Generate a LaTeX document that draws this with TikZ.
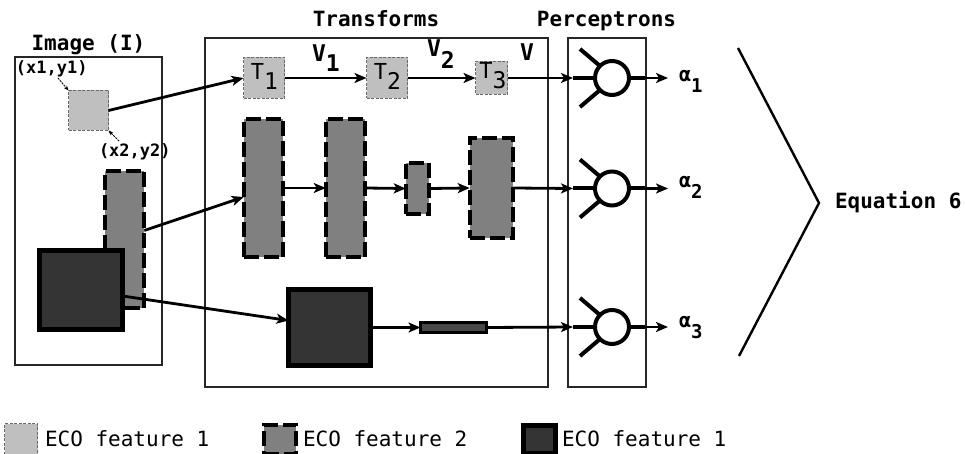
\documentclass[tikz,border=0pt]{standalone}
\usepackage{fontspec}
\setmainfont{DejaVu Sans Mono}
\usetikzlibrary{arrows.meta}
\definecolor{lightg}{RGB}{191,191,191}
\definecolor{dashg}{RGB}{105,105,105}
\definecolor{midg}{RGB}{128,128,128}
\definecolor{darkg}{RGB}{52,52,52}
\newcommand{\fsz}[1]{\fontsize{#1}{#1}\selectfont}
\begin{document}
\begin{tikzpicture}[x=1pt,y=-1pt,
  every node/.style={inner sep=0pt, outer sep=0pt},
  lightbox/.style={rectangle, fill=lightg, draw=dashg, line width=1pt, dash pattern=on 3pt off 1.5pt},
  midbox/.style={rectangle, fill=midg, draw=black, line width=3.8pt, dash pattern=on 15pt off 5pt},
  darkbox/.style={rectangle, fill=darkg, draw=black, line width=5pt},
  barbox/.style={rectangle, fill=darkg!90!white, draw=black, line width=3pt},
  frame/.style={rectangle, draw=black!85, line width=1.8pt},
  arr/.style={line width=2.8pt, -{Stealth[length=12pt,width=10pt,inset=3pt]}},
  tinyarr/.style={line width=0.9pt, dash pattern=on 2pt off 1pt, -{Stealth[length=5pt,width=4pt]}},
  perc/.style={circle, draw=black, fill=white, line width=4pt, minimum size=34pt},
  spoke/.style={line width=4pt},
  head/.style={font=\fsz{21}\bfseries, anchor=base},
  vlab/.style={font=\fsz{23}\bfseries, anchor=base west},
  tlab/.style={font=\fsz{22}, anchor=base},
  alab/.style={font=\fsz{20}\bfseries, anchor=base west},
  leg/.style={font=\fsz{21}, anchor=base west},
  xylab/.style={font=\fsz{17}\bfseries, anchor=base west}
]
\useasboundingbox (0,0) rectangle (965,454);

% frames
\node[frame, minimum width=147pt, minimum height=308pt] (imgframe) at (88.5,211) {};
\node[frame, minimum width=343pt, minimum height=349pt] (trframe) at (376.5,212.5) {};
\node[frame, minimum width=78pt, minimum height=349pt] (peframe) at (607,212.5) {};

% headers
\node[head] (himg) at (88.5,51) {Image (I)};
\node[head] (htr) at (376,27) {Transforms};
\node[head] (hpe) at (606.5,27) {Perceptrons};

% image content
\node[lightbox, minimum width=40pt, minimum height=40pt] (sq) at (88.5,110.5) {};
\node[midbox, minimum width=39.5pt, minimum height=137pt] (mr) at (124.5,239.5) {};
\node[darkbox, minimum width=83pt, minimum height=79pt] (dk) at (81,290) {};
\node[xylab] (lx1) at (16,74) {(x1,y1)};
\node[xylab] (lx2) at (99,157) {(x2,y2)};
\coordinate (c1) at (58,78);
\coordinate (c2) at (119,141);
\draw[tinyarr] (c1) -- (sq.north west);
\draw[tinyarr] (c2) -- (sq.south east);

% transforms row 1
\node[lightbox, minimum width=41pt, minimum height=41pt] (T1) at (264,78) {};
\node[lightbox, minimum width=41pt, minimum height=41pt] (T2) at (387,78) {};
\node[lightbox, minimum width=32pt, minimum height=33pt] (T3) at (491.5,78) {};
\node[tlab] (t1l) at (264.5,80) {T\raisebox{-10pt}{\fsz{23}1}};
\node[tlab] (t2l) at (387.5,80) {T\raisebox{-10pt}{\fsz{23}2}};
\node[tlab] (t3l) at (493,79) {T\raisebox{-10pt}{\fsz{23}3}};
\node[vlab] (v1) at (312,62) {V\raisebox{-10pt}{1}};
\node[vlab] (v2) at (427,57) {V\raisebox{-12pt}{2}};
\node[vlab] (v) at (520,61) {V};

% transforms row 2
\node[midbox, minimum width=39.5pt, minimum height=138pt] (R1) at (263.5,188) {};
\node[midbox, minimum width=39.5pt, minimum height=138pt] (R2) at (345.5,188) {};
\node[midbox, minimum width=23.5pt, minimum height=51.5pt] (R3) at (417.5,188.5) {};
\node[midbox, minimum width=43.5pt, minimum height=100.5pt] (R4) at (491.5,188) {};

% transforms row 3
\node[darkbox, minimum width=82pt, minimum height=76pt] (D2) at (329.5,327.5) {};
\node[barbox, minimum width=66pt, minimum height=10pt] (B) at (453.5,327.5) {};

% perceptrons
\node[perc] (p1) at (612,78) {};
\node[perc] (p2) at (612,188.5) {};
\node[perc] (p3) at (612,327) {};
\coordinate (p1in) at (573,78);
\coordinate (p2in) at (573,188.5);
\coordinate (p3in) at (573,327);
\coordinate (p1s) at (645,78);
\coordinate (p2s) at (645,188.5);
\coordinate (p3s) at (645,327);
\coordinate (o1) at (668,78);
\coordinate (o2) at (668,188.5);
\coordinate (o3) at (668,327);
\foreach \p/\i/\s in {p1/p1in/p1s, p2/p2in/p2s, p3/p3in/p3s}{
  \draw[spoke] (\p.135) -- ++(-20,-17);
  \draw[spoke] (\p.225) -- ++(-20,17);
  \draw[spoke] (\i) -- (\p.west);
  \draw[spoke] (\p.east) -- (\s);
}
\draw[arr] (p1.east) -- (o1);
\draw[arr] (p2.east) -- (o2);
\draw[arr] (p3.east) -- (o3);
\node[alab] (a1) at (679,82) {α\raisebox{-11pt}{\fsz{19}1}};
\node[alab] (a2) at (679,188) {α\raisebox{-11pt}{\fsz{19}2}};
\node[alab] (a3) at (679,327) {α\raisebox{-11pt}{\fsz{19}3}};

% connectors
\draw[arr] (sq.east) -- (T1.west);
\draw[arr] ([yshift=9pt]mr.east) -- ([yshift=-9pt]R1.west);
\draw[arr] ([yshift=-6pt]dk.east) -- ([yshift=7pt]D2.west);
\draw[arr] (T1.east) -- (T2.west);
\draw[arr] (T2.east) -- (T3.west);
\draw[arr] (T3.east) -- (p1in);
\draw[arr] (R1.east) -- (R2.west);
\draw[arr] (R2.east) -- (R3.west);
\draw[arr] (R3.east) -- (R4.west);
\draw[arr] (R4.east) -- (p2in);
\draw[arr] (D2.east) -- (B.west);
\draw[arr] (B.east) -- (p3in);

% bracket
\coordinate (b1) at (738,48);
\coordinate (b2) at (819,203);
\coordinate (b3) at (739,356);
\draw[line width=2.4pt] (b1) -- (b2) -- (b3);
\node[font=\fsz{21}\bfseries, anchor=base west] (eq) at (835,209) {Equation 6};

% legend
\node[lightbox, minimum width=33pt, minimum height=32pt] (lg1) at (21,439.5) {};
\node[leg] (lt1) at (45,446) {ECO feature 1};
\node[midbox, minimum width=32pt, minimum height=29.5pt] (lg2) at (280,439.5) {};
\node[leg] (lt2) at (303,446) {ECO feature 2};
\node[darkbox, minimum width=32pt, minimum height=28pt] (lg3) at (539.5,439.5) {};
\node[leg] (lt3) at (562,446) {ECO feature 1};
\end{tikzpicture}
\end{document}
